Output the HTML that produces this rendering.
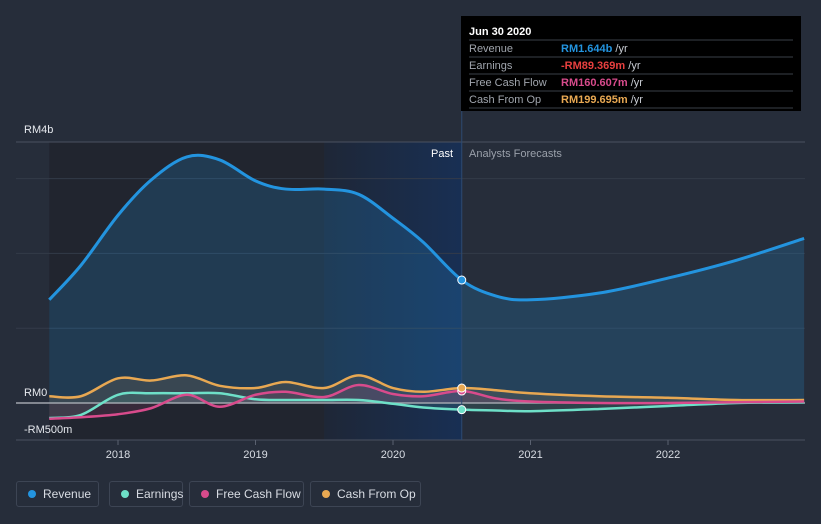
<!DOCTYPE html>
<html><head><meta charset="utf-8"><style>
body{margin:0;background:#262d3a;font-family:"Liberation Sans",sans-serif;}
#wrap{position:relative;width:821px;height:524px;overflow:hidden;}
.legend{position:absolute;top:481px;height:26px;border:1px solid #3d4554;border-radius:3px;color:#d8dce3;font-size:12px;line-height:24px;padding:0 0 0 26px;box-sizing:border-box;white-space:nowrap;}
.legend i{position:absolute;left:11px;top:8px;width:8px;height:8px;border-radius:50%;}
</style></head><body>
<div id="wrap">
<svg id="chart" width="821" height="524"></svg>
<div class="legend" style="left:16px;width:83px"><i style="background:#2394df"></i>Revenue</div>
<div class="legend" style="left:109px;width:74px"><i style="background:#6ee0c8"></i>Earnings</div>
<div class="legend" style="left:189px;width:115px"><i style="background:#d84b8c"></i>Free Cash Flow</div>
<div class="legend" style="left:310px;width:111px"><i style="background:#e8a852"></i>Cash From Op</div>
</div>
<script>
const years=[2017.5,2017.73,2018.0,2018.24,2018.5,2018.74,2019.0,2019.22,2019.5,2019.75,2020.0,2020.22,2020.5,2020.75,2021.0,2021.5,2022.0,2022.5,2022.99];
const revenue=[1.38,1.84,2.51,2.98,3.29,3.25,2.97,2.86,2.86,2.79,2.47,2.15,1.644,1.43,1.38,1.47,1.67,1.91,2.2];
const cashOp=[0.09,0.09,0.33,0.3,0.37,0.23,0.2,0.28,0.2,0.37,0.2,0.15,0.2,0.17,0.13,0.09,0.07,0.04,0.04];
const earnings=[-0.2,-0.16,0.11,0.13,0.13,0.13,0.05,0.04,0.04,0.04,-0.01,-0.06,-0.089,-0.1,-0.11,-0.08,-0.04,0,0.01];
const fcf=[-0.21,-0.19,-0.15,-0.07,0.11,-0.05,0.11,0.15,0.08,0.24,0.12,0.09,0.16,0.06,0.02,0.0,0.0,0.01,0.02];
const xTicks=[2018,2019,2020,2021,2022];
const yLabels=[["RM4b",3.6],["RM0",0],["-RM500m",-0.5]];
const NS="http://www.w3.org/2000/svg";
const svg=document.getElementById('chart');
const X=t=>118+(t-2018)*137.5;
const Y=v=>403-v*74.8;
function el(tag,attrs,parent){const e=document.createElementNS(NS,tag);for(const k in attrs)e.setAttribute(k,attrs[k]);(parent||svg).appendChild(e);return e;}
function path(xs,ys){const p=xs.map((t,i)=>[X(t),Y(ys[i])]);let d=`M${p[0][0]},${p[0][1]}`;for(let i=0;i<p.length-1;i++){const p0=p[i-1]||p[i],p1=p[i],p2=p[i+1],p3=p[i+2]||p2;const c1=[p1[0]+(p2[0]-p0[0])/6,p1[1]+(p2[1]-p0[1])/6],c2=[p2[0]-(p3[0]-p1[0])/6,p2[1]-(p3[1]-p1[1])/6];d+=`C${c1[0]},${c1[1]} ${c2[0]},${c2[1]} ${p2[0]},${p2[1]}`;}return d;}
const defs=el('defs',{});
defs.innerHTML='<linearGradient id="hl" x1="0" x2="1"><stop offset="0" stop-color="#1c2536" stop-opacity="0.8"/><stop offset="1" stop-color="#15305a" stop-opacity="0.8"/></linearGradient>';
let r=el('rect',{x:X(2017.5),y:142,width:X(2019.5)-X(2017.5),height:298,fill:'#21252f'});
r=el('rect',{x:X(2019.5),y:142,width:X(2020.5)-X(2019.5),height:298,fill:'url(#hl)'});
[1,2,3].forEach(v=>{const g=el('line',{x1:16,x2:805,y1:Y(v),y2:Y(v),stroke:'#333b49','stroke-width':1});});
let l=el('line',{x1:16,x2:805,y1:142,y2:142,stroke:'#4a5160'});
l=el('line',{x1:16,x2:805,y1:440,y2:440,stroke:'#4a5160'});
xTicks.forEach(t=>{const k=el('line',{x1:X(t),x2:X(t),y1:440,y2:445,stroke:'#5a6170'});
const tx=el('text',{x:X(t),y:458,fill:'#d8dce3','font-size':11,'text-anchor':'middle'});tx.textContent=t;});
const series=[[revenue,'#2394df','revenue'],[cashOp,'#e8a852','cash-from-op'],[earnings,'#6ee0c8','earnings'],[fcf,'#d84b8c','free-cash-flow']];
series.forEach(([v,c,n],i)=>{const d=path(years,v);const a=el('path',{d:d+`L${X(years[years.length-1])},${Y(0)}L${X(years[0])},${Y(0)}Z`,fill:c,'fill-opacity':i==0?0.2:0.12});});
l=el('line',{x1:16,x2:805,y1:Y(0),y2:Y(0),stroke:'#a0a5ad','stroke-width':1.5});
series.forEach(([v,c,n])=>{const p=el('path',{d:path(years,v),fill:'none',stroke:c,'stroke-width':n=='revenue'?3:2.5});});
l=el('line',{x1:X(2020.5),x2:X(2020.5),y1:16,y2:440,stroke:'#2d4a70','stroke-width':1});
const idx=years.indexOf(2020.5);
series.slice().reverse().forEach(([v,c,n])=>{const d=el('circle',{cx:X(2020.5),cy:Y(v[idx]),r:4,fill:c,stroke:'#fff','stroke-width':1});});
const yPos=[133,396,433];
yLabels.forEach(([t,v],i)=>{const tx=el('text',{x:24,y:yPos[i],fill:'#e6e9ee','font-size':11});tx.textContent=t;});
let t=el('text',{x:453,y:157,fill:'#fff','font-size':11,'text-anchor':'end'});t.textContent='Past';
t=el('text',{x:469,y:157,fill:'#9aa0aa','font-size':11});t.textContent='Analysts Forecasts';
const tip=el('g',{});
el('rect',{x:461,y:16,width:340,height:95,fill:'#000'},tip);
let tt=el('text',{x:469,y:35,fill:'#fff','font-size':11,'font-weight':'bold'},tip);tt.textContent='Jun 30 2020';
const rows=[['Revenue','RM1.644b','#2394df'],['Earnings','-RM89.369m','#e8403f'],['Free Cash Flow','RM160.607m','#d84b8c'],['Cash From Op','RM199.695m','#e8a852']];
rows.forEach((rw,i)=>{const y=52+i*17;el('line',{x1:469,x2:793,y1:y-12,y2:y-12,stroke:'#3a3f48'},tip);
let a=el('text',{x:469,y:y,fill:'#a0a5ad','font-size':11},tip);a.textContent=rw[0];
let b=el('text',{x:561,y:y,fill:rw[2],'font-size':11,'font-weight':'bold'},tip);b.textContent=rw[1];
let c=el('tspan',{fill:'#c8ccd3','font-weight':'normal'},b);c.textContent=' /yr';});
el('line',{x1:469,x2:793,y1:108,y2:108,stroke:'#3a3f48'},tip);
</script></body></html>
